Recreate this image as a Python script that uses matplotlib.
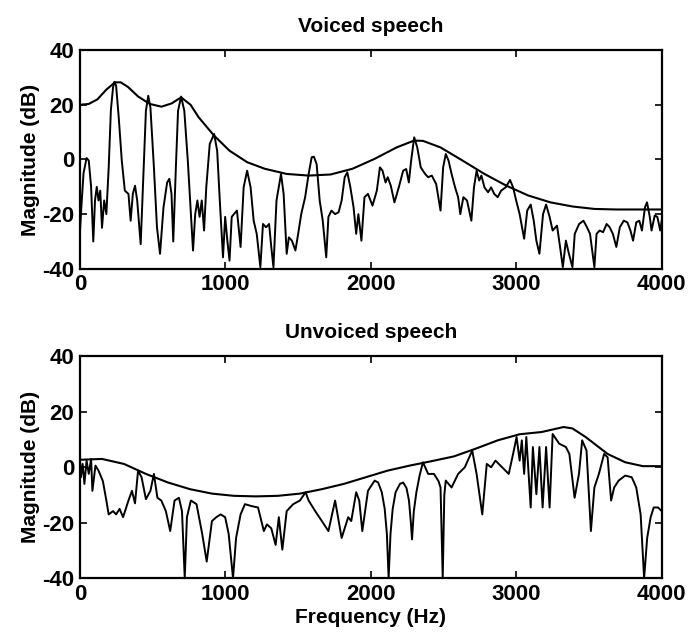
import numpy as np
import matplotlib.pyplot as plt

plt.rcParams['font.family'] = ['Liberation Sans', 'DejaVu Sans']
plt.rcParams['axes.unicode_minus'] = False

# Voiced speech: spectrum (Hz, dB)
voiced_f = [0, 9, 24, 45, 60, 76, 91, 103, 115, 127, 139, 151, 166, 181, 197, 212, 227, 236, 248, 266,
            287, 308, 333, 348, 363, 378, 393, 417, 438, 453, 469, 484, 508, 529, 550, 574, 599, 614,
            629, 641, 659, 674, 695, 717, 741, 762, 777, 792, 807, 822, 837, 853, 868, 892, 922, 943,
            961, 983, 998, 1013, 1028, 1043, 1058, 1079, 1104, 1125, 1149, 1173, 1194, 1215, 1240,
            1258, 1279, 1300, 1315, 1330, 1351, 1382, 1400, 1421, 1436, 1457, 1481, 1500, 1521, 1548,
            1572, 1593, 1608, 1627, 1648, 1669, 1693, 1708, 1729, 1754, 1778, 1799, 1820, 1838, 1859,
            1881, 1899, 1914, 1935, 1956, 1980, 2011, 2041, 2062, 2080, 2101, 2116, 2137, 2162, 2192,
            2222, 2243, 2261, 2277, 2298, 2319, 2343, 2373, 2394, 2419, 2449, 2479, 2497, 2515, 2534,
            2555, 2579, 2600, 2615, 2636, 2661, 2691, 2709, 2727, 2745, 2760, 2781, 2806, 2827, 2848,
            2872, 2896, 2927, 2957, 2978, 2999, 3023, 3054, 3075, 3099, 3120, 3138, 3159, 3184, 3205,
            3229, 3250, 3280, 3301, 3320, 3341, 3362, 3386, 3402, 3432, 3462, 3486, 3507, 3537, 3552,
            3573, 3597, 3621, 3642, 3664, 3688, 3712, 3739, 3764, 3785, 3803, 3825, 3846, 3864, 3885,
            3899, 3918, 3930, 3952, 3970, 3990, 4000]
voiced_db = [-26, -17.5, -5, 0.5, -0.4, -10, -30, -15, -10, -15, -11.4, -25, -15, -20, -3, 18, 26.4, 28.4,
             27, 15.4, -0.4, -11.4, -12.6, -22.4, -12.6, -9.6, -15, -31, -2.9, 17.8, 23.3, 19, -2.9,
             -24.8, -34.5, -17.5, -8.4, -7.1, -12.6, -30, -2.9, 17.8, 23, 17.8, -0.4, -20, -33.3, -20,
             -15, -21, -15, -26, -10.2, 5.7, 9.3, 3.2, -15, -35.8, -21, -29.7, -37, -21, -20, -18.7,
             -32, -10.2, -4.1, -10.2, -22.4, -27.2, -39.4, -23.6, -24.8, -23.6, -32, -39.4, -15, -5.3,
             -12.6, -34.5, -28.5, -29.7, -33.3, -27.2, -20, -13.8, -5.3, 0.8, 1, -1.7, -15, -22.4,
             -35.8, -21, -18.7, -20, -19.3, -15, -6.5, -4.7, -10.2, -17.5, -27.2, -20, -29.7, -13.8,
             -12.6, -16.9, -11.4, -2.9, -4.1, -8.4, -6.5, -9.6, -15.7, -10.2, -4.1, -3.5, -8.4, -0.4,
             8.1, 4.4, -2.9, -5.3, -6.5, -5.9, -9, -18.7, -2.9, 2, -0.4, -5.3, -10.2, -13.8, -20,
             -13.8, -15, -22.4, -10.2, -4.1, -7.7, -5.9, -10.2, -12, -10.2, -12.6, -13.8, -11.4,
             -10.2, -7.5, -10.2, -15, -20, -29, -18.7, -16.5, -22.4, -29.7, -34.5, -20, -16.5, -21,
             -26, -24.2, -32, -39.4, -29.7, -34.5, -39.4, -27.2, -23.6, -22.4, -24.8, -27.2, -39.4,
             -27.2, -26, -26.6, -23.6, -24.8, -27.2, -32, -24.8, -22.4, -23, -26, -29.7, -23, -22.4,
             -26, -17.5, -15.7, -21, -26, -20.5, -21, -26, -22.4]

# Voiced speech: LPC envelope
voiced_env_f = [0, 60, 120, 180, 240, 280, 330, 400, 480, 560, 630, 695, 760, 816, 922, 1028, 1149, 1270,
                1421, 1572, 1723, 1874, 2025, 2177, 2297, 2358, 2479, 2630, 2781, 2932, 3083, 3235,
                3386, 3537, 3688, 3850, 4000]
voiced_env_db = [20, 20.3, 22, 25.5, 28.2, 28.2, 26.5, 23, 20.3, 19.3, 20.5, 22.7, 20, 15.4, 8.7, 3.2, -1,
                 -3.4, -5.3, -5.9, -5.5, -3.4, 0.2, 4.4, 6.9, 6.8, 4.4, -0.4, -5.3, -9.6, -13.2, -15.7,
                 -17.2, -18.1, -18.3, -18.3, -18.3]

# Unvoiced speech: spectrum (Hz, dB)
unvoiced_f = [0, 6, 18, 30, 45, 60, 76, 85, 106, 127, 157, 181, 197, 227, 248, 272, 296, 333, 357, 378,
              399, 423, 453, 484, 508, 532, 559, 590, 620, 650, 680, 701, 720, 735, 762, 801, 840, 871,
              907, 937, 967, 998, 1022, 1052, 1073, 1104, 1134, 1179, 1224, 1264, 1285, 1315, 1345,
              1367, 1391, 1421, 1466, 1512, 1551, 1572, 1617, 1663, 1708, 1754, 1799, 1844, 1865,
              1899, 1920, 1941, 1980, 2026, 2050, 2075, 2095, 2110, 2122, 2135, 2150, 2170, 2200,
              2222, 2245, 2262, 2275, 2283, 2295, 2313, 2335, 2358, 2394, 2434, 2465, 2479, 2494,
              2505, 2515, 2555, 2600, 2646, 2697, 2727, 2766, 2797, 2827, 2857, 2902, 2948, 2978,
              3002, 3023, 3038, 3054, 3069, 3099, 3114, 3138, 3159, 3181, 3205, 3229, 3250, 3295,
              3341, 3365, 3401, 3431, 3453, 3483, 3513, 3537, 3568, 3604, 3628, 3652, 3673, 3704,
              3749, 3794, 3825, 3855, 3879, 3900, 3924, 3945, 3975, 4000]
unvoiced_db = [2.4, -3.6, 1.2, -6, 2.4, -2.4, 3, -8.5, 0.6, -1.2, -5, -12, -17, -15.8, -17, -15, -18, -12,
               -8.5, -13, -1.2, -3.6, -11.5, -8.5, -2.4, -11, -12, -15.8, -23, -12, -11, -15.8, -40,
               -18, -12, -13.3, -24, -34, -19.4, -18, -17, -18, -24, -40, -25.5, -17, -13.3, -14,
               -14.5, -23, -20.6, -22, -28, -18, -29.7, -15.8, -13.3, -12, -9, -12, -15.8, -19.4,
               -23, -12, -25.5, -18, -19.4, -9, -12, -23, -8.5, -4.8, -5.5, -9, -15, -24, -40, -24,
               -15, -9, -6, -5.5, -7.5, -12, -20, -26, -16, -9, -3, 1.8, -2.4, -2.4, -5, -7.3, -40,
               -10, -4.8, -7.3, -2.4, 0, 6, -2.4, -17, 1.2, 0, 2.4, 0, -2.4, 4.8, 10.9, 2.4, 9.7,
               -2.4, 10.9, -14.5, 7.3, -9.7, 7.3, -14.5, 7.3, -14.5, 12, 8.5, 7.3, 4.8, -11, -2.4,
               9.7, 6, -23, -7.3, -2.4, 4.8, 3.6, -12, -7.3, -4.8, -3, -3.6, -7.3, -17, -40, -25.5,
               -18, -14.5, -14.5, -15.8]

# Unvoiced speech: LPC envelope
unvoiced_env_f = [0, 151, 302, 453, 605, 756, 907, 1058, 1209, 1360, 1512, 1663, 1814, 1965, 2116, 2267,
                  2418, 2570, 2721, 2872, 3023, 3174, 3325, 3386, 3477, 3628, 3749, 3870, 4000]
unvoiced_env_db = [2.7, 3, 1.2, -2.4, -5.5, -7.9, -9.5, -10.3, -10.5, -10.3, -9.5, -7.9, -6, -3.6, -1.2,
                   0.6, 2.2, 3.9, 6.7, 9.7, 11.9, 12.7, 14.5, 14, 10.9, 4.8, 1.8, 0.4, 0.4]

fig = plt.figure(figsize=(6.9, 6.34), dpi=100)
ax1 = fig.add_axes([0.116, 0.576, 0.843, 0.345])
ax2 = fig.add_axes([0.116, 0.088, 0.843, 0.350])

panels = [(ax1, voiced_f, voiced_db, voiced_env_f, voiced_env_db, 'Voiced speech'),
          (ax2, unvoiced_f, unvoiced_db, unvoiced_env_f, unvoiced_env_db, 'Unvoiced speech')]

for ax, f, db, ef, edb, title in panels:
    ax.plot(f, db, color='black', linewidth=1.4)
    ax.plot(ef, edb, color='black', linewidth=1.5)
    ax.set_xlim(0, 4000)
    ax.set_ylim(-40, 40)
    ax.set_xticks([0, 1000, 2000, 3000, 4000])
    ax.set_yticks([-40, -20, 0, 20, 40])
    ax.tick_params(direction='in', top=True, right=True, labelsize=16, length=5, width=1.2, pad=4)
    for lab in ax.get_xticklabels() + ax.get_yticklabels():
        lab.set_fontweight('bold')
    for s in ax.spines.values():
        s.set_linewidth(1.6)
    ax.set_title(title, fontsize=15, fontweight='bold', pad=13)
    ax.set_ylabel('Magnitude (dB)', fontsize=15, fontweight='bold', labelpad=2)

ax2.set_xlabel('Frequency (Hz)', fontsize=15, fontweight='bold', labelpad=2)

fig.savefig('out.png', dpi=100)
